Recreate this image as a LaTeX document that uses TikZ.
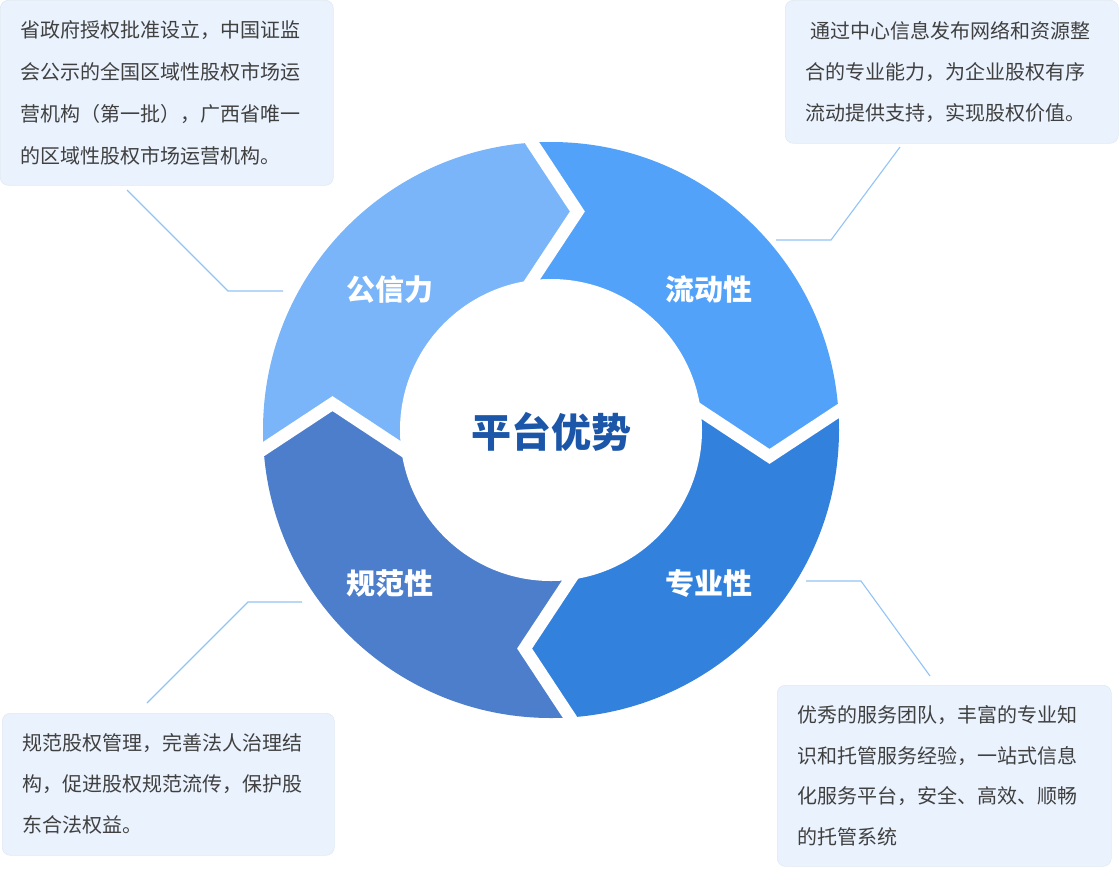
\documentclass[tikz,border=0pt]{standalone}
\usepackage{fontspec}
\setmainfont{Noto Sans CJK SC}
\definecolor{cTL}{HTML}{7AB5FA}
\definecolor{cTR}{HTML}{52A2FA}
\definecolor{cBR}{HTML}{3281DD}
\definecolor{cBL}{HTML}{4C7ECB}
\definecolor{ctr}{HTML}{1B56A8}
\definecolor{boxfill}{HTML}{EAF2FD}
\definecolor{boxline}{HTML}{E2E9F2}
\definecolor{txt}{HTML}{404040}
\definecolor{leadc}{HTML}{93C3F5}
\begin{document}
\begin{tikzpicture}[x=1pt,y=1pt,
  box/.style={rectangle, rounded corners=8pt, fill=boxfill, draw=boxline, line width=0.6pt,
    anchor=north west, align=left, inner xsep=20pt, inner ysep=0pt, text=txt},
  leader/.style={draw=leadc, line width=1.1pt},
  seglabel/.style={text=white, font=\fontsize{29}{31}\selectfont\bfseries},
  gapline/.style={draw=white, line width=12.5pt, line join=miter, line cap=butt}]
\useasboundingbox (0,0) rectangle (1119,-868);

% ---- ring ----
\begin{scope}[shift={(551,-430)}]
  \begin{scope}
    \clip (0,0) circle (288);
    % top-right
    \fill[cTR] (0,0) -- (-64.4,81.1) -- (26.4,218.5) -- (-64.4,356.3) -- (-64.4,400) -- (400,400)
      -- (400,64.4) -- (356.3,64.4) -- (218.5,-26.4) -- (81.1,64.4) -- cycle;
    % bottom-right
    \fill[cBR] (0,0) -- (81.1,64.4) -- (218.5,-26.4) -- (356.3,64.4) -- (400,64.4) -- (400,-400)
      -- (64.4,-400) -- (64.4,-356.3) -- (-26.4,-218.5) -- (64.4,-81.1) -- cycle;
    % bottom-left
    \fill[cBL] (0,0) -- (64.4,-81.1) -- (-26.4,-218.5) -- (64.4,-356.3) -- (64.4,-400) -- (-400,-400)
      -- (-400,-64.4) -- (-356.3,-64.4) -- (-218.5,26.4) -- (-81.1,-64.4) -- cycle;
    % top-left
    \fill[cTL] (0,0) -- (-81.1,-64.4) -- (-218.5,26.4) -- (-356.3,-64.4) -- (-400,-64.4) -- (-400,400)
      -- (-64.4,400) -- (-64.4,356.3) -- (26.4,218.5) -- (-64.4,81.1) -- cycle;
  \end{scope}
  \fill[white] (0,0) circle (151);
  % chevron gaps
  \draw[gapline] (-30.35,304.6) -- (26.4,218.5) -- (-30.35,132.6);
  \draw[gapline] (304.6,30.35) -- (218.5,-26.4) -- (132.6,30.35);
  \draw[gapline] (30.35,-304.6) -- (-26.4,-218.5) -- (30.35,-132.6);
  \draw[gapline] (-304.6,-30.35) -- (-218.5,26.4) -- (-132.6,-30.35);
\end{scope}

\node[seglabel] (gxl) at (390,-290) {公信力};
\node[seglabel] (ldx) at (709,-289) {流动性};
\node[seglabel] (zyx) at (709,-583) {专业性};
\node[seglabel] (gfx) at (390,-583) {规范性};
\node[text=ctr, font=\fontsize{40}{42}\selectfont\bfseries] (center) at (551,-432) {平台优势};

% ---- text boxes ----
\node[box, text width=293pt, minimum height=185pt, font=\fontsize{20}{42}\selectfont] (tl) at (0,0)
  {省政府授权批准设立，中国证监\\会公示的全国区域性股权市场运\\营机构（第一批），广西省唯一\\的区域性股权市场运营机构。};
\node[box, text width=293pt, minimum height=143pt, font=\fontsize{20}{41}\selectfont] (tr) at (785,0)
  {\hspace*{5pt}通过中心信息发布网络和资源整\\合的专业能力，为企业股权有序\\流动提供支持，实现股权价值。};
\node[box, text width=292pt, minimum height=142pt, font=\fontsize{20}{41}\selectfont] (bl) at (2,-713)
  {规范股权管理，完善法人治理结\\构，促进股权规范流传，保护股\\东合法权益。};
\node[box, text width=294pt, minimum height=181pt, font=\fontsize{20}{40.5}\selectfont] (br) at (777,-685)
  {优秀的服务团队，丰富的专业知\\识和托管服务经验，一站式信息\\化服务平台，安全、高效、顺畅\\的托管系统};

% ---- leader lines ----
\coordinate (tl-a) at (127,-190);
\coordinate (tl-b) at (283,-291);
\coordinate (tr-a) at (900,-147);
\coordinate (tr-b) at (776,-240);
\coordinate (bl-a) at (147,-703);
\coordinate (bl-b) at (302,-602);
\coordinate (br-a) at (930,-676);
\coordinate (br-b) at (806,-581);
\draw[leader] (tl-a) -- (228,-291) -- (tl-b);
\draw[leader] (tr-a) -- (831,-240) -- (tr-b);
\draw[leader] (bl-a) -- (248,-602) -- (bl-b);
\draw[leader] (br-a) -- (861,-581) -- (br-b);
\end{tikzpicture}
\end{document}
